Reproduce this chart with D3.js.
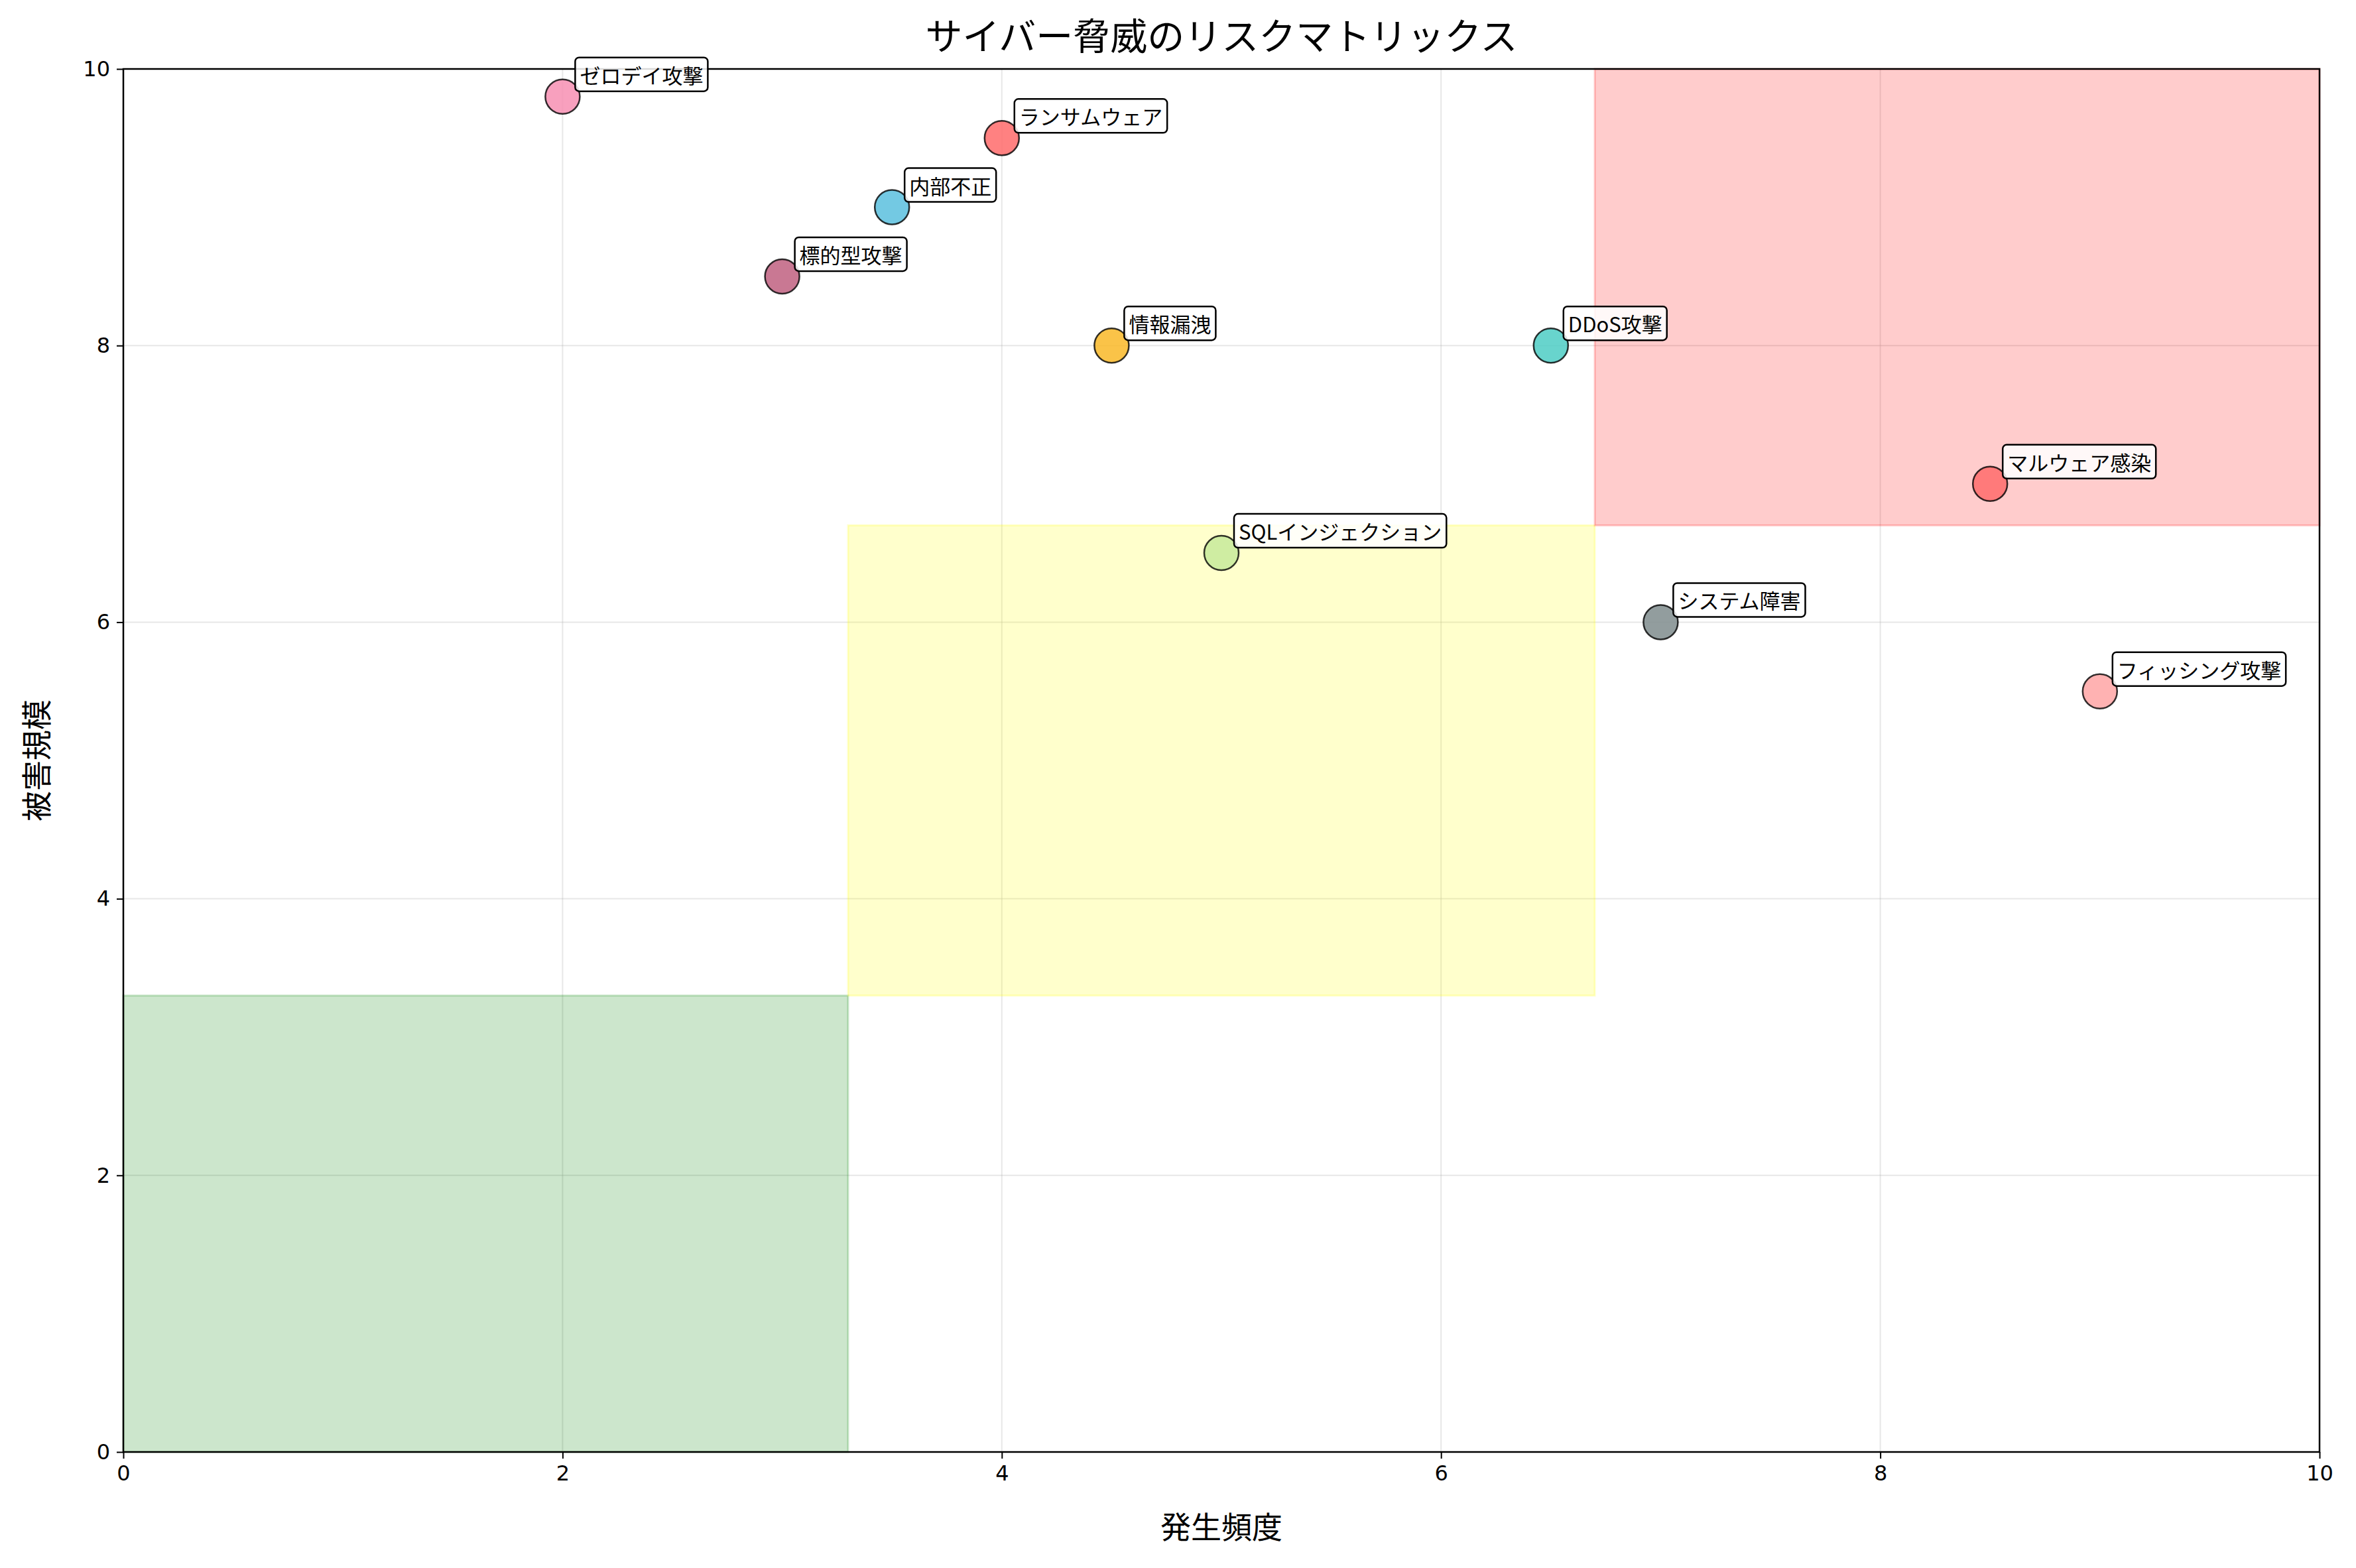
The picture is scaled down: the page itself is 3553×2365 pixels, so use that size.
<!DOCTYPE html>
<html><head><meta charset="utf-8">
<script src="https://cdn.jsdelivr.net/npm/d3@7"></script>
<style>body{margin:0;background:#fff}</style></head>
<body><svg id="c" width="3553" height="2365"></svg>
<script>
const names=["ゼロデイ攻撃","ランサムウェア","内部不正","標的型攻撃","情報漏洩","DDoS攻撃","マルウェア感染","SQLインジェクション","システム障害","フィッシング攻撃"];
const freq=[2,4,3.5,3,4.5,6.5,8.5,5,7,9];
const impact=[9.8,9.5,9.0,8.5,8.0,8.0,7.0,6.5,6.0,5.5];
const colors=["#f78fb3","#ff6b6b","#5bc0de","#c06080","#f9b928","#4ecdc4","#ff6b6b","#c7ea9a","#7f8c8d","#ffa5a5"];
const zones=[{x0:0,x1:3.3,y0:0,y1:3.3,c:"green"},{x0:3.3,x1:6.7,y0:3.3,y1:6.7,c:"yellow"},{x0:6.7,x1:10,y0:6.7,y1:10,c:"red"}];
const ticks=[0,2,4,6,8,10];
const F="'Noto Sans CJK JP','DejaVu Sans',sans-serif";
const L=186,R=3498,T=104,B=2190;
const svg=d3.select("#c");
const x=d3.scaleLinear().domain([0,10]).range([L,R]);
const y=d3.scaleLinear().domain([0,10]).range([B,T]);
svg.append("g").selectAll("line.v").data(ticks).join("line").attr("x1",d=>x(d)).attr("x2",d=>x(d)).attr("y1",T).attr("y2",B).attr("stroke","#b0b0b0").attr("stroke-opacity",0.3).attr("stroke-width",2);
svg.append("g").selectAll("line.h").data(ticks).join("line").attr("y1",d=>y(d)).attr("y2",d=>y(d)).attr("x1",L).attr("x2",R).attr("stroke","#b0b0b0").attr("stroke-opacity",0.3).attr("stroke-width",2);
svg.append("g").selectAll("rect").data(zones).join("rect").attr("x",d=>x(d.x0)).attr("width",d=>x(d.x1)-x(d.x0)).attr("y",d=>y(d.y1)).attr("height",d=>y(d.y0)-y(d.y1)).attr("fill",d=>d.c).attr("fill-opacity",0.2).attr("stroke",d=>d.c).attr("stroke-opacity",0.2).attr("stroke-width",3);
svg.append("g").attr("transform",`translate(0,${B})`).call(d3.axisBottom(x).tickValues(ticks).tickFormat(d3.format("d")).tickSize(10).tickPadding(10)).call(g=>{g.select(".domain").remove();g.selectAll("text").attr("font-size",32).attr("font-family","'DejaVu Sans',sans-serif");g.selectAll("line").attr("stroke-width",2);});
svg.append("g").attr("transform",`translate(${L},0)`).call(d3.axisLeft(y).tickValues(ticks).tickFormat(d3.format("d")).tickSize(10).tickPadding(10)).call(g=>{g.select(".domain").remove();g.selectAll("text").attr("font-size",32).attr("font-family","'DejaVu Sans',sans-serif");g.selectAll("line").attr("stroke-width",2);});
svg.append("rect").attr("x",L).attr("y",T).attr("width",R-L).attr("height",B-T).attr("fill","none").attr("stroke","#000").attr("stroke-width",2.5);
const idx=d3.range(names.length);
svg.append("g").selectAll("circle").data(idx).join("circle").attr("cx",i=>x(freq[i])).attr("cy",i=>y(impact[i])).attr("r",26).attr("fill",i=>colors[i]).attr("fill-opacity",0.85).attr("stroke","#000").attr("stroke-opacity",0.8).attr("stroke-width",2.5);
const lab=svg.append("g").selectAll("g").data(idx).join("g").attr("transform",i=>`translate(${x(freq[i])+18},${y(impact[i])-20})`);
lab.each(function(i){
  const g=d3.select(this);
  const t=g.append("text").text(names[i]).attr("x",8).attr("y",0).attr("font-size",31).attr("font-family",F).attr("fill","#000");
  const bb=t.node().getBBox();
  g.insert("rect","text").attr("x",bb.x-7).attr("y",bb.y-3).attr("width",bb.width+14).attr("height",bb.height+6).attr("rx",6).attr("fill","#fff").attr("fill-opacity",0.85).attr("stroke","#000").attr("stroke-width",2.5);
});
svg.append("text").text("サイバー脅威のリスクマトリックス").attr("x",(L+R)/2).attr("y",75).attr("text-anchor","middle").attr("font-size",56).attr("font-family",F);
svg.append("text").text("発生頻度").attr("x",(L+R)/2).attr("y",2320).attr("text-anchor","middle").attr("font-size",46).attr("font-family",F);
svg.append("text").text("被害規模").attr("transform",`translate(72,${(T+B)/2}) rotate(-90)`).attr("text-anchor","middle").attr("font-size",46).attr("font-family",F);
</script></body></html>
